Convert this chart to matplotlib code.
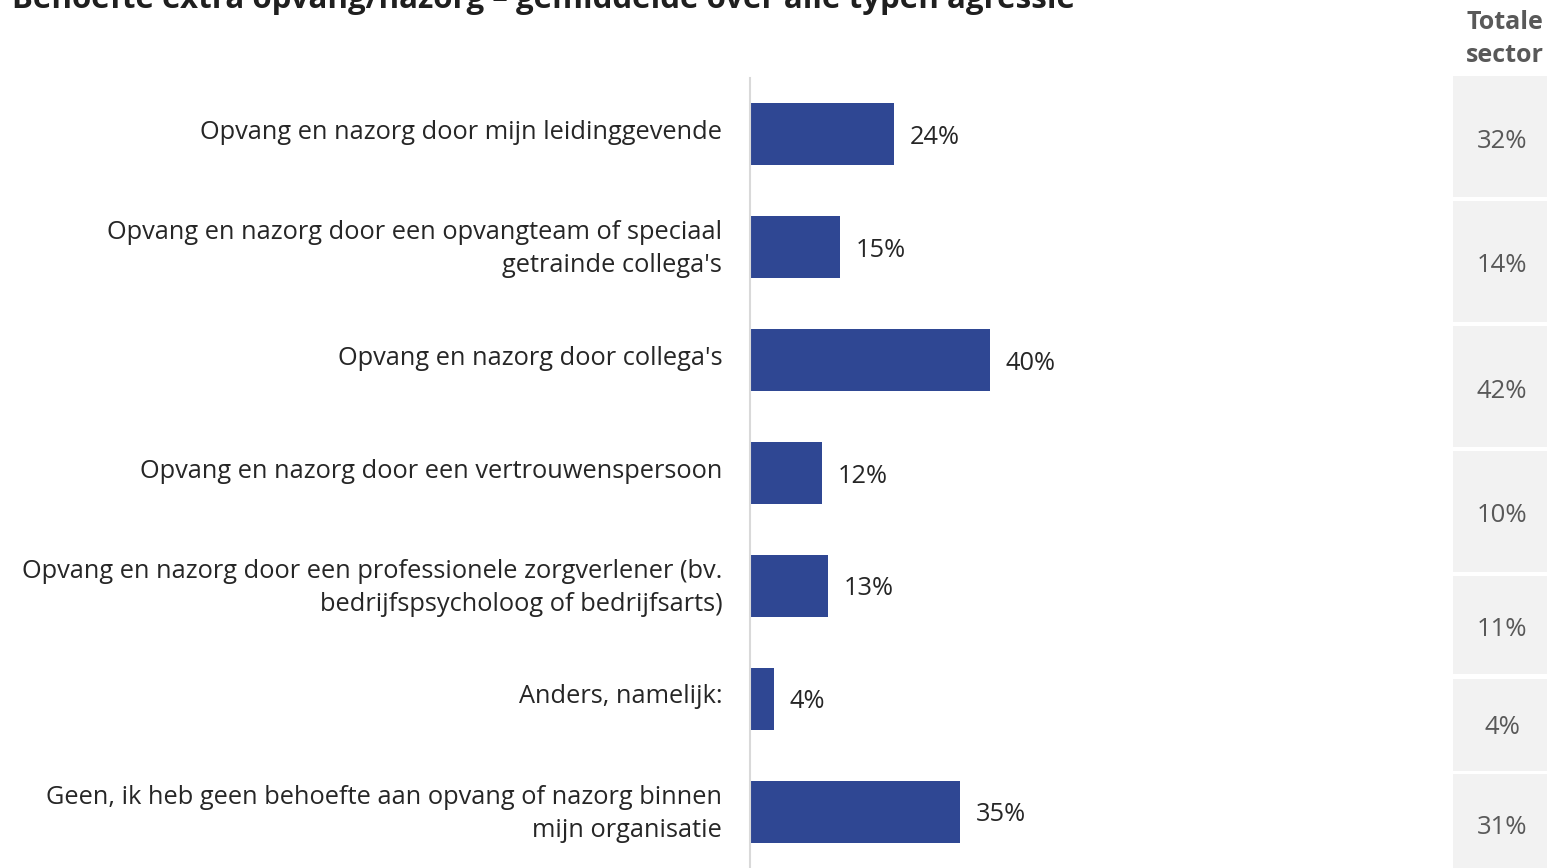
import matplotlib
matplotlib.use("Agg")
import matplotlib.pyplot as plt
from matplotlib.patches import Rectangle
from matplotlib.transforms import ScaledTranslation

plt.rcParams['font.family'] = ['Open Sans', 'DejaVu Sans']

title = "Behoefte extra opvang/nazorg – gemiddelde over alle typen agressie"
categories = [
    "Opvang en nazorg door mijn leidinggevende",
    "Opvang en nazorg door een opvangteam of speciaal\ngetrainde collega's",
    "Opvang en nazorg door collega's",
    "Opvang en nazorg door een vertrouwenspersoon",
    "Opvang en nazorg door een professionele zorgverlener (bv.\nbedrijfspsycholoog of bedrijfsarts)",
    "Anders, namelijk:",
    "Geen, ik heb geen behoefte aan opvang of nazorg binnen\nmijn organisatie",
]
values = [24, 15, 40, 12, 13, 4, 35]
sector_values = [32, 14, 42, 10, 11, 4, 31]
sector_header = "Totale\nsector"

W, H = 1547, 868
fig = plt.figure(figsize=(W / 100, H / 100), dpi=100)
FS = 18.3

# main axes: x from 750 px, 6 px per %, top at y=78 px
ax = fig.add_axes([750 / W, 0, 600 / W, (H - 78) / H])
ypos = list(range(len(values)))
ax.barh(ypos, values, height=0.55, color='#2f4793')
ax.set_xlim(0, 100)
ax.set_ylim(len(values) - 0.5, -0.5)
for s in ['top', 'right', 'bottom']:
    ax.spines[s].set_visible(False)
ax.spines['left'].set_color('#d9d9d9')
ax.spines['left'].set_linewidth(1.5)
ax.set_xticks([])
ax.set_yticks(ypos)
ax.set_yticklabels(categories, fontsize=FS, color='#262626', linespacing=1.42)
ax.tick_params(axis='y', length=0, pad=20)
shift_up = ScaledTranslation(0, 5 / 100, fig.dpi_scale_trans)
for lbl in ax.get_yticklabels():
    lbl.set_horizontalalignment('right')
    lbl.set_transform(lbl.get_transform() + shift_up)
for y, v in zip(ypos, values):
    ax.annotate(f"{v}%", (v, y), xytext=(11.5, -2.2), textcoords='offset points',
                va='center', ha='left', fontsize=FS, color='#262626')

# title (clipped at top as in reference)
fig.text(12 / W, 1 - 8 / H, title, fontsize=22.5, fontweight='bold',
         color='#1f1f1f', ha='left', va='baseline')

# right panel header
fig.text(1505 / W, 1 - 39 / H, sector_header, fontsize=18, fontweight='bold',
         color='#595959', ha='center', va='center', linespacing=1.38)

# right panel boxes (pixel layout)
boxes = [(76, 197), (201, 322), (326, 447), (451, 572), (576, 674), (679, 771), (774, 880)]
text_y = [138, 263, 388, 513, 627, 725, 825]
for (t, b), ty, v in zip(boxes, text_y, sector_values):
    fig.patches.append(Rectangle((1453 / W, 1 - b / H), (W - 1453) / W, (b - t) / H,
                                 transform=fig.transFigure, facecolor='#f2f2f2',
                                 edgecolor='none', zorder=0))
    fig.text(1502 / W, 1 - (ty + 3) / H, f"{v}%", fontsize=18.5, color='#595959',
             ha='center', va='center')

fig.savefig("out.png", dpi=100)
